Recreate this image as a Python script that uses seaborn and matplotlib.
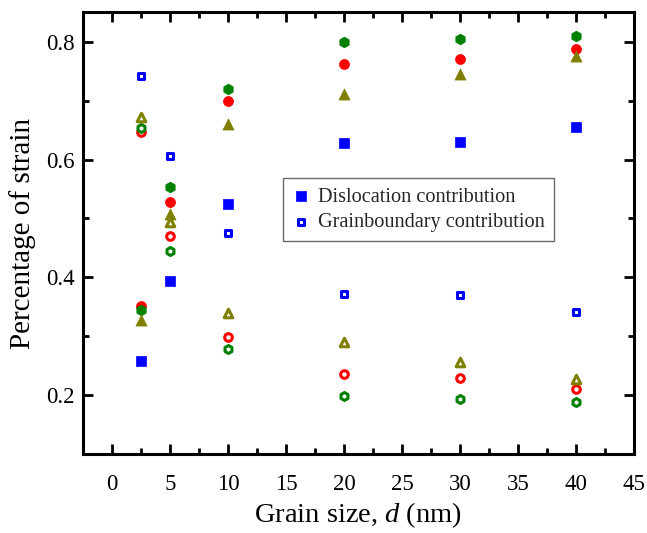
import matplotlib
matplotlib.use("Agg")
import matplotlib.pyplot as plt
import seaborn as sns
import pandas as pd
from matplotlib.ticker import MultipleLocator

sns.set_theme(style="ticks")
plt.rcParams['font.family'] = ['Liberation Serif', 'DejaVu Serif']
plt.rcParams['mathtext.fontset'] = 'custom'
plt.rcParams['mathtext.rm'] = 'Liberation Serif'
plt.rcParams['mathtext.it'] = 'Liberation Serif:italic'

grain_size = [2.5, 5, 10, 20, 30, 40]

# blue squares
disl_blue = [0.258, 0.393, 0.524, 0.628, 0.629, 0.655]
gb_blue = [0.741, 0.606, 0.475, 0.371, 0.370, 0.342]
# red circles
disl_red = [0.352, 0.528, 0.700, 0.762, 0.770, 0.788]
gb_red = [0.646, 0.470, 0.298, 0.236, 0.229, 0.211]
# green hexagons
disl_green = [0.345, 0.554, 0.720, 0.799, 0.805, 0.810]
gb_green = [0.654, 0.444, 0.278, 0.199, 0.193, 0.189]
# olive triangles
disl_olive = [0.328, 0.507, 0.661, 0.711, 0.745, 0.775]
gb_olive = [0.673, 0.494, 0.340, 0.290, 0.257, 0.227]

series = [
    ("Dislocation contribution", disl_blue, "#0000FF", "s", True, True),
    ("Grainboundary contribution", gb_blue, "#0000FF", "s", False, True),
    ("red dis", disl_red, "#FF0000", "o", True, False),
    ("red gb", gb_red, "#FF0000", "o", False, False),
    ("green dis", disl_green, "#008000", "h", True, False),
    ("green gb", gb_green, "#008000", "h", False, False),
    ("olive dis", disl_olive, "#808000", "^", True, False),
    ("olive gb", gb_olive, "#808000", "^", False, False),
]

filled_size = {"s": 44, "o": 52, "h": 60, "^": 64}
open_size = {"s": 24, "o": 30, "h": 33, "^": 38}

fig = plt.figure(figsize=(6.47, 5.33), dpi=100)
ax = fig.add_axes([0.128, 0.148, 0.852, 0.829])

for name, vals, color, marker, filled, in_legend in series:
    df = pd.DataFrame({"d": grain_size, "v": vals})
    kw = dict(x="d", y="v", data=df, ax=ax, marker=marker, zorder=3)
    if filled:
        sns.scatterplot(**kw, color=color, edgecolor=color, linewidth=0.5, s=filled_size[marker],
                        label=name if in_legend else None, legend=False)
    else:
        sns.scatterplot(**kw, facecolor="white", edgecolor=color, linewidth=2.2, s=open_size[marker],
                        label=name if in_legend else None, legend=False)

ax.set_xlim(-2.5, 45)
ax.set_ylim(0.1, 0.85)
ax.xaxis.set_major_locator(MultipleLocator(5))
ax.xaxis.set_minor_locator(MultipleLocator(2.5))
ax.yaxis.set_minor_locator(MultipleLocator(0.1))
ax.set_yticks([0.2, 0.4, 0.6, 0.8])
ax.set_yticklabels(["0.2", "0.4", "0.6", "0.8"])

ax.tick_params(which="both", direction="in", top=True, right=True, labelsize=16.5,
               color="black", labelcolor="black")
ax.tick_params(axis="x", which="major", pad=14)
ax.tick_params(axis="y", which="major", pad=6)
ax.tick_params(which="major", length=7, width=2)
ax.tick_params(which="minor", length=4, width=2)
for sp in ax.spines.values():
    sp.set_linewidth(2.2)
    sp.set_color("black")
    sp.set_visible(True)

ax.set_xlabel("Grain size, $d$ (nm)", fontsize=20.5, labelpad=4, color="black")
ax.set_ylabel("Percentage of strain", fontsize=21, labelpad=7, color="black")

handles, labels = ax.get_legend_handles_labels()
leg = ax.legend(handles, labels, loc="upper left", bbox_to_anchor=(0.363, 0.624),
                borderaxespad=0, fontsize=14.6, frameon=True, fancybox=False,
                handletextpad=0.4, handlelength=0.9, borderpad=0.45, labelspacing=0.3)
leg.get_frame().set_edgecolor("#444444")
leg.get_frame().set_linewidth(1.0)

fig.savefig("out.png", dpi=100)
